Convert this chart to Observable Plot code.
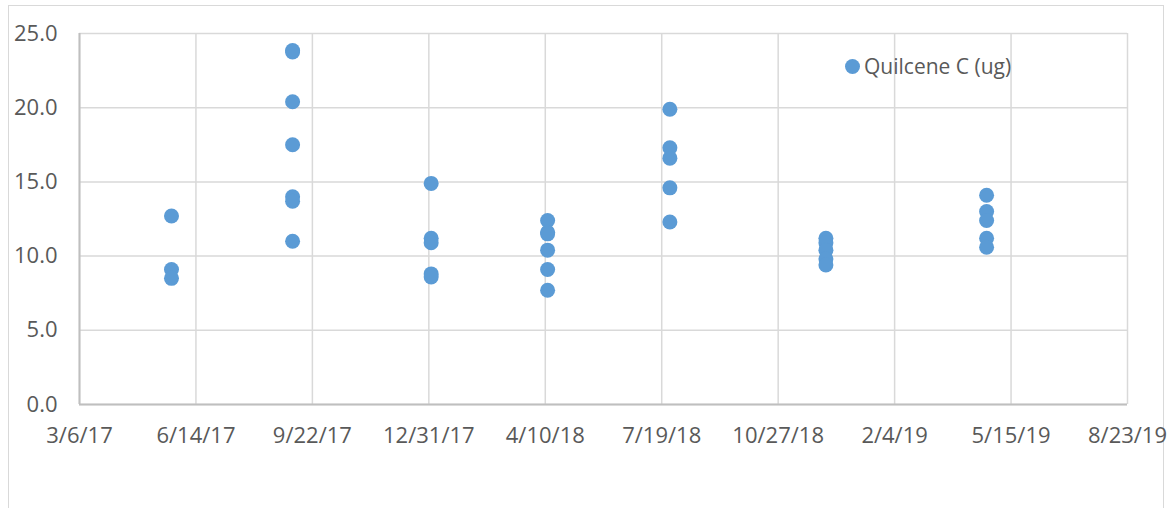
<!DOCTYPE html>
<html>
<head>
<meta charset="utf-8">
<script src="https://cdn.jsdelivr.net/npm/d3@7"></script>
<script src="https://cdn.jsdelivr.net/npm/@observablehq/plot@0.6"></script>
<style>
  html, body { margin: 0; padding: 0; background: #fff; }
  #wrap { position: relative; width: 1171px; height: 508px; overflow: hidden; }
  #frame { position: absolute; left: 8px; top: 5px; width: 1156px; height: 520px; border: 1px solid #d9d9d9; box-sizing: border-box; pointer-events: none; }
  #legend { position: absolute; left: 845px; top: 52px; font: 21px "Open Sans", sans-serif; color: #595959; display: flex; align-items: center; }
  #legend span.dot { display: inline-block; width: 15px; height: 15px; border-radius: 50%; background: #5b9bd5; margin-right: 4px; }
  svg { position: absolute; left: 0; top: 0; }
</style>
</head>
<body>
<div id="wrap">
  <div id="frame"></div>
  <div id="chart"></div>
  <div id="legend"><span class="dot"></span>Quilcene C (ug)</div>
</div>
<script>
const seriesName = "Quilcene C (ug)";
const sampleDates = [
  "2017-05-24","2017-05-24","2017-05-24",
  "2017-09-05","2017-09-05","2017-09-05","2017-09-05","2017-09-05","2017-09-05","2017-09-05",
  "2018-01-02","2018-01-02","2018-01-02","2018-01-02","2018-01-02",
  "2018-04-12","2018-04-12","2018-04-12","2018-04-12","2018-04-12","2018-04-12",
  "2018-07-26","2018-07-26","2018-07-26","2018-07-26","2018-07-26",
  "2018-12-07","2018-12-07","2018-12-07","2018-12-07","2018-12-07",
  "2019-04-24","2019-04-24","2019-04-24","2019-04-24","2019-04-24"
];
const sampleValues = [
  12.7, 9.1, 8.5,
  23.85, 23.75, 20.4, 17.5, 14.0, 13.7, 11.0,
  14.9, 11.2, 10.9, 8.8, 8.6,
  12.4, 11.6, 11.5, 10.4, 9.1, 7.7,
  19.9, 17.3, 16.6, 14.6, 12.3,
  11.2, 10.9, 10.4, 9.8, 9.4,
  14.1, 13.0, 12.4, 11.2, 10.6
];
const xTickLabels = ["3/6/17","6/14/17","9/22/17","12/31/17","4/10/18","7/19/18","10/27/18","2/4/19","5/15/19","8/23/19"];
const yTicks = [0, 5, 10, 15, 20, 25];

const parseTick = d3.timeParse("%-m/%-d/%y");
const xTicks = xTickLabels.map(parseTick);
const data = sampleDates.map((d, i) => ({date: d3.timeParse("%Y-%m-%d")(d), value: sampleValues[i]}));

const chart = Plot.plot({
  width: 1171,
  height: 508,
  marginLeft: 79,
  marginRight: 44,
  marginTop: 33,
  marginBottom: 104,
  style: {fontFamily: "'Open Sans', sans-serif", fontSize: "22px", color: "#595959", background: "transparent"},
  x: {type: "time", domain: [xTicks[0], xTicks[xTicks.length - 1]], label: null},
  y: {domain: [0, 25], label: null},
  marks: [
    Plot.gridX(xTicks, {stroke: "#d9d9d9", strokeOpacity: 1, strokeWidth: 1.5}),
    Plot.gridY(yTicks, {stroke: "#d9d9d9", strokeOpacity: 1, strokeWidth: 1.5}),
    Plot.ruleX([xTicks[0]], {stroke: "#bfbfbf", strokeWidth: 2}),
    Plot.ruleY([0], {stroke: "#bfbfbf", strokeWidth: 2}),
    Plot.dot(data, {x: "date", y: "value", r: 7.5, fill: "#5b9bd5", stroke: "none"}),
    Plot.axisX({ticks: xTicks, tickFormat: d3.timeFormat("%-m/%-d/%y"), tickSize: 0, tickPadding: 23, fill: "#595959", fontSize: 22}),
    Plot.axisY({ticks: yTicks, tickFormat: d3.format(".1f"), tickSize: 0, tickPadding: 22, fill: "#595959", fontSize: 22})
  ]
});
document.getElementById("chart").appendChild(chart);
</script>
</body>
</html>
